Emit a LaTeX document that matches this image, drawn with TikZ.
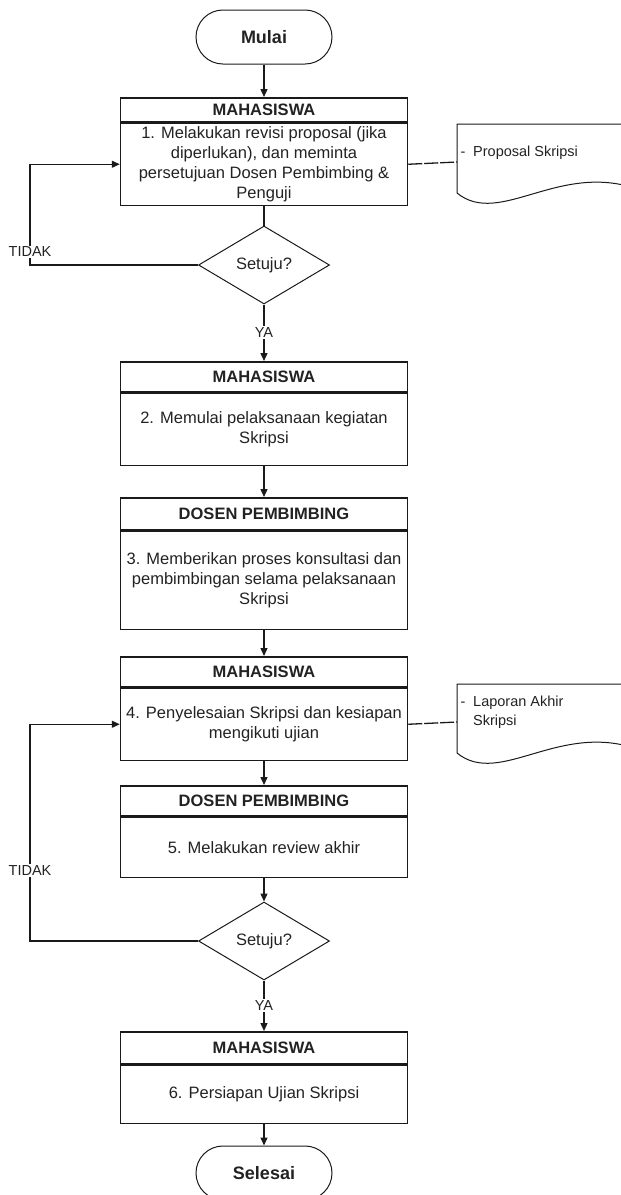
\documentclass[tikz,border=0pt]{standalone}
\usepackage{fontspec}
\setmainfont{Liberation Sans}
\usetikzlibrary{shapes.geometric,arrows.meta}
\definecolor{ink}{HTML}{1A1A1A}
\definecolor{txt}{HTML}{222222}
\begin{document}
\begin{tikzpicture}[x=1pt,y=-1pt,
  hdr/.style={draw=ink,line width=1.5pt,minimum width=287pt,inner sep=0pt,anchor=north,font=\fontsize{16.5}{20}\selectfont\bfseries,text=txt},
  body/.style={draw=ink,line width=1.5pt,minimum width=287pt,inner sep=0pt,anchor=north,align=center,font=\fontsize{16.5}{20}\selectfont,text=txt},
  term/.style={draw=ink,line width=1pt,rounded corners=27pt,minimum width=136pt,minimum height=54pt,font=\fontsize{18}{22}\selectfont\bfseries,text=txt},
  decision/.style={diamond,draw=ink,line width=1pt,minimum width=131pt,minimum height=78pt,inner sep=0pt,font=\fontsize{16.5}{20}\selectfont,text=txt},
  conn/.style={draw=ink,line width=1.3pt},
  arr/.style={conn,-{Triangle[length=8pt,width=7pt]}},
  lbl/.style={fill=white,inner sep=1.5pt,font=\fontsize{14.5}{17}\selectfont,text=txt},
  doc/.style={draw=ink,line width=1pt},
  doctext/.style={anchor=west,inner sep=0pt,align=left,font=\fontsize{14.5}{19}\selectfont,text=txt},
  link/.style={draw=ink,line width=1.3pt,dash pattern=on 14pt off 2pt}
]
\useasboundingbox (0,0) rectangle (621,1195);

% terminals, boxes, decisions
\node[term] (start) at (264,37) {Mulai};
\node[hdr,minimum height=24pt] (h1) at (264,97) {MAHASISWA};
\node[body,minimum height=82pt] (b1) at (h1.south) {1. Melakukan revisi proposal (jika\\diperlukan), dan meminta\\persetujuan Dosen Pembimbing \&\\Penguji};
\node[decision] (d1) at (264,265) {Setuju?};
\node[hdr,minimum height=30pt] (h2) at (264,361) {MAHASISWA};
\node[body,minimum height=72pt] (b2) at (h2.south) {2. Memulai pelaksanaan kegiatan\\Skripsi};
\node[hdr,minimum height=32pt] (h3) at (264,497) {DOSEN PEMBIMBING};
\node[body,minimum height=98pt] (b3) at (h3.south) {3. Memberikan proses konsultasi dan\\pembimbingan selama pelaksanaan\\Skripsi};
\node[hdr,minimum height=30pt] (h4) at (264,656) {MAHASISWA};
\node[body,minimum height=72pt] (b4) at (h4.south) {4. Penyelesaian Skripsi dan kesiapan\\mengikuti ujian};
\node[hdr,minimum height=30pt] (h5) at (264,785) {DOSEN PEMBIMBING};
\node[body,minimum height=60pt] (b5) at (h5.south) {5. Melakukan review akhir};
\node[decision] (d2) at (264,941) {Setuju?};
\node[hdr,minimum height=32pt] (h6) at (264,1031) {MAHASISWA};
\node[body,minimum height=58pt] (b6) at (h6.south) {6. Persiapan Ujian Skripsi};
\node[term] (end) at (264,1173) {Selesai};

% documents
\draw[doc] (457,124) -- (640,124) -- (640,190) .. controls (560,160) and (500,228) .. (457,193) -- cycle;
\node[doctext] (p1) at (460.5,153) {\makebox[12.5pt][l]{-}Proposal Skripsi};
\draw[doc] (457,684) -- (640,684) -- (640,750) .. controls (560,720) and (500,788) .. (457,753) -- cycle;
\node[doctext] (p2) at (460.5,712.5) {\makebox[12.5pt][l]{-}Laporan Akhir\\\hspace*{12.5pt}Skripsi};
\coordinate (dl1) at (457,162);
\coordinate (dl2) at (457,722);
\draw[link] (b1.east) -- (dl1);
\draw[link] (b4.east) -- (dl2);

% loop corners
\coordinate (k1) at (30,265);
\coordinate (k3) at (30,941);

% connectors
\draw[arr] (start) -- (h1);
\draw[conn] (b1) -- (d1);
\draw[arr] (d1) -- node[lbl] {YA} (h2);
\draw[arr] (d1.west) -- (k1) |- (b1.west);
\draw[arr] (b2) -- (h3);
\draw[arr] (b3) -- (h4);
\draw[arr] (b4) -- (h5);
\draw[arr] (b5) -- (d2);
\draw[arr] (d2) -- node[lbl] {YA} (h6);
\draw[arr] (d2.west) -- (k3) |- (b4.west);
\draw[arr] (b6) -- (end);

\node[lbl] (t1) at (30,252) {TIDAK};
\node[lbl] (t2) at (30,870) {TIDAK};
\end{tikzpicture}
\end{document}
